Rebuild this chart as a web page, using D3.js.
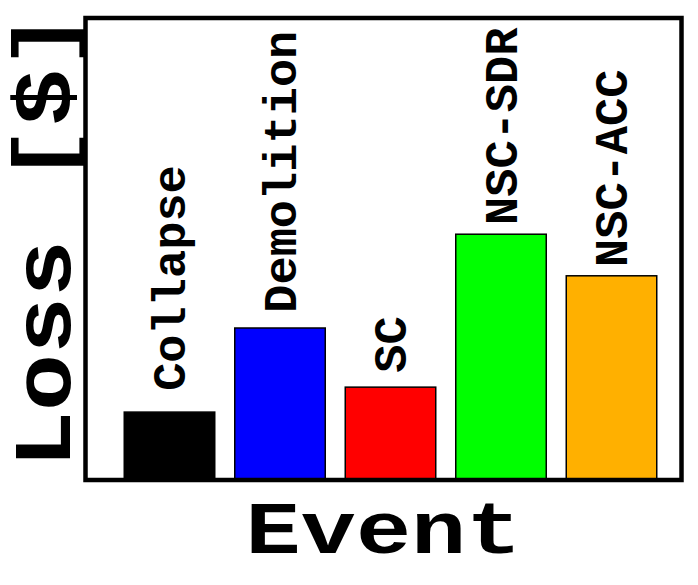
<!DOCTYPE html>
<html>
<head>
<meta charset="utf-8">
<script src="https://cdn.jsdelivr.net/npm/d3@7"></script>
<style>
  html, body { margin: 0; padding: 0; background: #fff; }
  svg { display: block; }
</style>
</head>
<body>
<svg id="chart" width="698" height="585"></svg>
<script>
// ---- data ----
const categories = ["Collapse", "Demolition", "SC", "NSC-SDR", "NSC-ACC"];
const lossValues = [0.147, 0.329, 0.201, 0.532, 0.442];
const labelLevels = [0.193, 0.362, 0.232, 0.552, 0.461];
const barColors = ["#000000", "#0000ff", "#ff0000", "#00ff00", "#ffb000"];
const xTitle = "Event";
const yTitle = "Loss [$]";

// ---- layout ----
const plot = { left: 85.5, right: 681.5, top: 18, bottom: 480 };
const FONT = "'Courier New', 'Liberation Mono', monospace";

const svg = d3.select("#chart");

const x = d3.scaleBand()
  .domain(categories)
  .range([114.25, 666.75])
  .paddingInner(0.181)
  .paddingOuter(0.0905);

const y = d3.scaleLinear()
  .domain([0, 1])
  .range([plot.bottom, plot.top]);

// bars
svg.append("g").selectAll("rect")
  .data(categories)
  .join("rect")
  .attr("x", d => x(d))
  .attr("width", x.bandwidth())
  .attr("y", (d, i) => y(lossValues[i]))
  .attr("height", (d, i) => y(0) - y(lossValues[i]))
  .attr("fill", (d, i) => barColors[i])
  .attr("stroke", "#000")
  .attr("stroke-width", 1.5);

// bar labels (rotated)
svg.append("g").selectAll("text")
  .data(categories)
  .join("text")
  .attr("transform", (d, i) => `translate(${x(d) + x.bandwidth() / 2},${y(labelLevels[i])}) rotate(-90)`)
  .attr("dy", "0.33em")
  .attr("text-anchor", "start")
  .attr("font-family", FONT)
  .attr("font-weight", "bold")
  .attr("font-size", 47)
  .attr("fill", "#000")
  .text(d => d);

// frame
svg.append("rect")
  .attr("x", plot.left)
  .attr("y", plot.top)
  .attr("width", plot.right - plot.left)
  .attr("height", plot.bottom - plot.top)
  .attr("fill", "none")
  .attr("stroke", "#000")
  .attr("stroke-width", 4.5);

// axis titles
svg.append("g")
  .attr("transform", `translate(${(plot.left + plot.right) / 2},553) scale(1,0.81)`)
  .append("text")
  .attr("text-anchor", "middle")
  .attr("font-family", FONT)
  .attr("font-weight", "bold")
  .attr("font-size", 92)
  .attr("fill", "#000")
  .text(xTitle);

svg.append("g")
  .attr("transform", `translate(70,240) rotate(-90) scale(1,0.85)`)
  .append("text")
  .attr("text-anchor", "middle")
  .attr("font-family", FONT)
  .attr("font-weight", "bold")
  .attr("font-size", 95)
  .attr("fill", "#000")
  .text(yTitle);
</script>
</body>
</html>
